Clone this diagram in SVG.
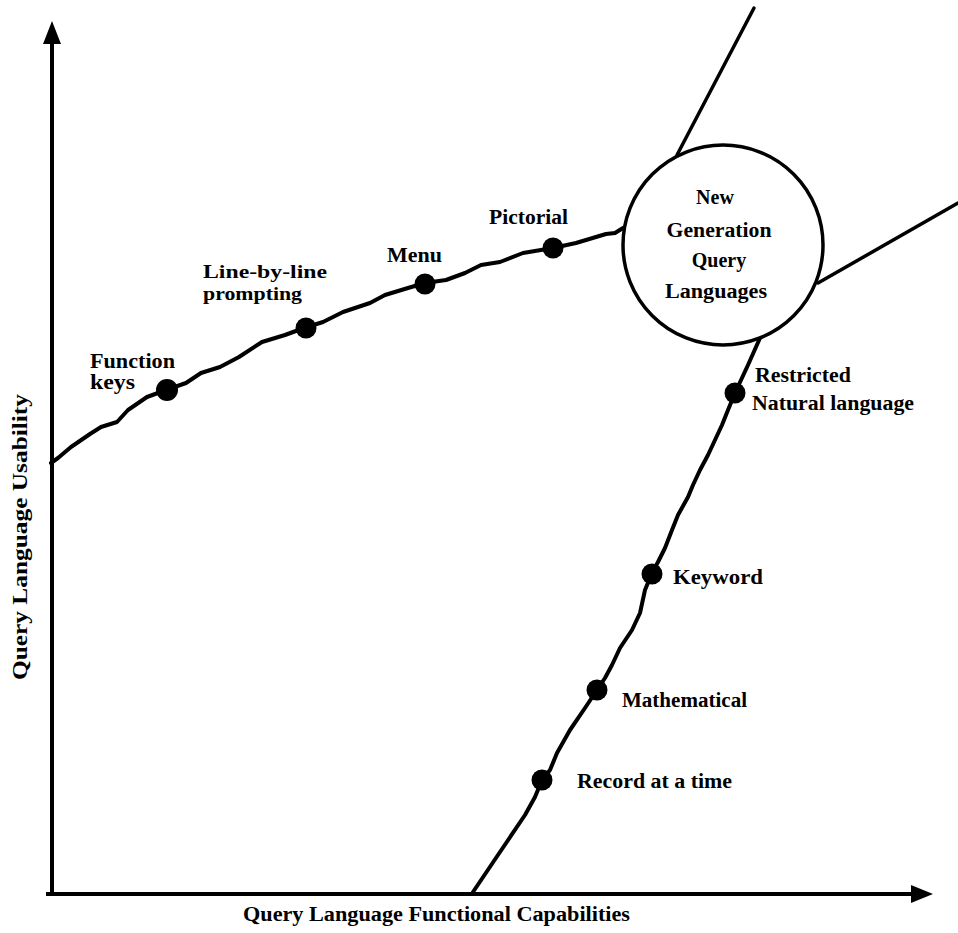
<svg xmlns="http://www.w3.org/2000/svg" width="958" height="933" viewBox="0 0 958 933">
  <style>
    .bg { fill: #ffffff; }
    .axis { stroke: #000; stroke-width: 4; fill: none; }
    .head { fill: #000; }
    .curve { stroke: #000; stroke-width: 4; fill: none; stroke-linejoin: round; stroke-linecap: round; }
    .branch { stroke: #000; stroke-width: 3.5; fill: none; stroke-linecap: round; }
    .ring { stroke: #000; stroke-width: 3.5; fill: #fff; }
    .dot { fill: #000; }
    .lbl { font-family: "Liberation Serif", "Times New Roman", serif; font-size: 20px; font-weight: bold; fill: #000; }
    .tight { font-size: 19px; }
    .mid { text-anchor: middle; }
  </style>

  <rect class="bg" x="0" y="0" width="958" height="933"/>

  <!-- Axes -->
  <g id="axes">
    <line class="axis" x1="52" y1="40" x2="52" y2="894"/>
    <polygon class="head" points="52,21 43,44 61,44"/>
    <line class="axis" x1="46" y1="894" x2="914" y2="894"/>
    <polygon class="head" points="933,894 911,885 911,903"/>
    <text class="lbl" x="243" y="921" textLength="387" lengthAdjust="spacingAndGlyphs">Query Language Functional Capabilities</text>
    <text class="lbl" transform="translate(27,537) rotate(-90)" x="-143" y="0" textLength="286" lengthAdjust="spacingAndGlyphs">Query Language Usability</text>
  </g>

  <!-- Connectors: usability curve, functionality curve, and the two outgoing lines -->
  <g id="connectors">
    <path id="usability-curve" class="curve" d="M51,463 L58,458 L71,447 L90,434 L101,427 L117,422 L128,410 L147,397 L166,390 L186,383 L201,373 L220,367 L239,357 L262,342 L285,335 L304,328 L323,322 L343,312 L370,303 L385,295 L408,288 L425,283 L446,280 L465,273 L481,265 L500,262 L523,253 L553,248 L576,243 L596,237 L606,234 L615,233 L623,228"/>
    <path id="functionality-curve" class="curve" d="M760,338 L748,365 L735,393 L728,410 L722,425 L715,440 L708,455 L700,470 L693,485 L688,497 L678,515 L672,530 L665,548 L658,562 L652,573 L645,590 L640,613 L632,630 L620,648 L612,665 L605,678 L597,690 L585,708 L570,730 L557,753 L550,770 L542,780 L535,797 L525,815 L500,852 L473,892"/>
    <line class="branch" x1="677" y1="155" x2="754" y2="8"/>
    <line class="branch" x1="818" y1="283" x2="958" y2="203"/>
  </g>

  <!-- Convergence node -->
  <g id="new-generation">
    <circle class="ring" cx="723" cy="245" r="100"/>
    <text class="lbl mid" x="715" y="204">New</text>
    <text class="lbl mid" x="719" y="237" textLength="105" lengthAdjust="spacingAndGlyphs">Generation</text>
    <text class="lbl mid" x="719" y="267">Query</text>
    <text class="lbl mid" x="716" y="298" textLength="102" lengthAdjust="spacingAndGlyphs">Languages</text>
  </g>

  <!-- Usability milestones -->
  <g id="function-keys">
    <circle class="dot" cx="167" cy="390" r="11"/>
    <text class="lbl" x="90" y="368" textLength="85" lengthAdjust="spacingAndGlyphs">Function</text>
    <text class="lbl" x="90" y="389" textLength="45" lengthAdjust="spacingAndGlyphs">keys</text>
  </g>
  <g id="line-by-line">
    <circle class="dot" cx="306" cy="328" r="10.5"/>
    <text class="lbl tight" x="203" y="278" textLength="124" lengthAdjust="spacingAndGlyphs">Line-by-line</text>
    <text class="lbl tight" x="203" y="300" textLength="99" lengthAdjust="spacingAndGlyphs">prompting</text>
  </g>
  <g id="menu">
    <circle class="dot" cx="425" cy="284" r="10.5"/>
    <text class="lbl" x="387" y="262" textLength="55" lengthAdjust="spacingAndGlyphs">Menu</text>
  </g>
  <g id="pictorial">
    <circle class="dot" cx="553" cy="248" r="10.5"/>
    <text class="lbl" x="489" y="224" textLength="79" lengthAdjust="spacingAndGlyphs">Pictorial</text>
  </g>

  <!-- Functional capability milestones -->
  <g id="restricted-natural-language">
    <circle class="dot" cx="735" cy="393" r="10.5"/>
    <text class="lbl" x="755" y="382" textLength="96" lengthAdjust="spacingAndGlyphs">Restricted</text>
    <text class="lbl" x="752" y="410" textLength="162" lengthAdjust="spacingAndGlyphs">Natural language</text>
  </g>
  <g id="keyword">
    <circle class="dot" cx="652" cy="574" r="10.5"/>
    <text class="lbl" x="673" y="584" textLength="90" lengthAdjust="spacingAndGlyphs">Keyword</text>
  </g>
  <g id="mathematical">
    <circle class="dot" cx="597" cy="690" r="10.5"/>
    <text class="lbl" x="622" y="707" textLength="125" lengthAdjust="spacingAndGlyphs">Mathematical</text>
  </g>
  <g id="record-at-a-time">
    <circle class="dot" cx="542" cy="780" r="10.5"/>
    <text class="lbl" x="577" y="788" textLength="155" lengthAdjust="spacingAndGlyphs">Record at a time</text>
  </g>
</svg>
